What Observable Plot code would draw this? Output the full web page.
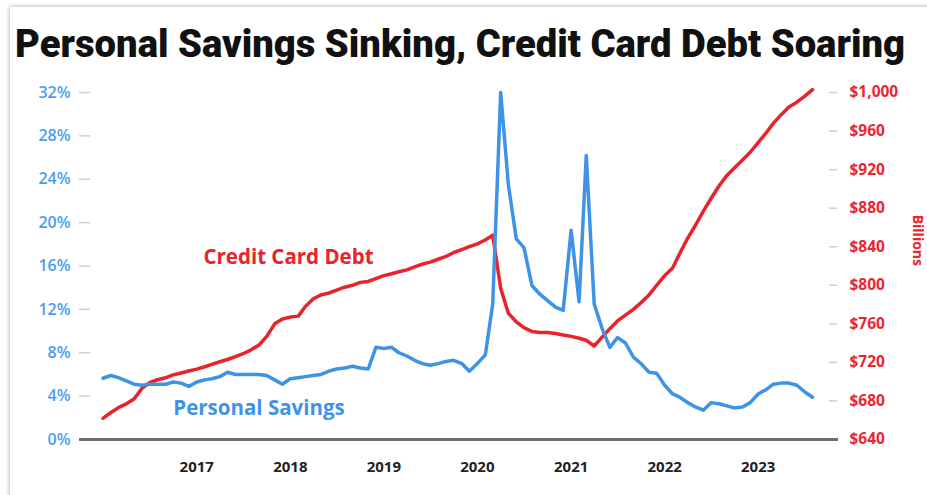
<!DOCTYPE html>
<html>
<head>
<meta charset="utf-8">
<script src="https://cdn.jsdelivr.net/npm/d3@7"></script>
<script src="https://cdn.jsdelivr.net/npm/@observablehq/plot@0.6"></script>
<style>
  html, body { margin: 0; padding: 0; background: #ffffff; width: 927px; height: 495px; overflow: hidden; }
  #card { position: absolute; left: 10px; top: 7px; width: 1000px; height: 600px; background: #fff;
          box-shadow: 0 0 5px rgba(0,0,0,0.35); }
  #wrap { position: absolute; left: 0; top: 0; width: 927px; }
  #title { display: block; }
  #chart svg { display: block; }
</style>
</head>
<body>
<div id="card"></div>
<div id="wrap">
  <svg id="title" width="927" height="70">
    <text x="15" y="57" textLength="890" lengthAdjust="spacingAndGlyphs"
      style="font-family: Roboto, 'Liberation Sans', sans-serif; font-weight: 900; font-size: 39px; fill: #111;">Personal Savings Sinking, Credit Card Debt Soaring</text>
  </svg>
  <div id="chart"></div>
</div>
<script>
// Monthly, Jan 2016 .. Aug 2023
const startYear = 2016, startMonth = 0;
// Personal saving rate (%)
const savings = [
  5.65, 5.9, 5.7, 5.4, 5.1, 5.0, 5.1, 5.1, 5.1, 5.3, 5.2, 4.9,
  5.3, 5.5, 5.6, 5.8, 6.2, 6.0, 6.0, 6.0, 6.0, 5.9, 5.5, 5.1,
  5.6, 5.7, 5.8, 5.9, 6.0, 6.3, 6.5, 6.6, 6.75, 6.6, 6.5, 8.5,
  8.4, 8.5, 8.0, 7.7, 7.3, 7.0, 6.85, 7.0, 7.2, 7.3, 7.0, 6.3,
  7.0, 7.8, 12.5, 32.0, 23.5, 18.5, 17.7, 14.2, 13.4, 12.8, 12.2, 11.9,
  19.3, 12.7, 26.2, 12.5, 10.3, 8.5, 9.4, 8.9, 7.6, 7.0, 6.2, 6.1,
  5.0, 4.2, 3.9, 3.4, 3.0, 2.7, 3.4, 3.3, 3.1, 2.9, 3.0, 3.4,
  4.2, 4.6, 5.1, 5.2, 5.2, 5.0, 4.4, 3.9
];
// Credit card debt ($ billions)
const debt = [
  662, 668, 673, 677, 682, 693, 699, 702, 704, 707, 709, 711,
  713, 715.5, 718, 720.7, 723, 726, 729, 733, 738, 747, 760, 765,
  767, 768, 778, 786, 790, 792, 795, 798, 800, 803, 804, 807,
  810, 812, 814, 816, 819, 822, 824, 827, 830, 834, 837, 840,
  843, 847, 852, 797, 771, 762, 756, 752, 751, 751, 750, 748.5,
  747, 745, 743, 737, 746, 755, 763, 769, 775, 782, 790, 800,
  810, 818, 833, 849, 862, 877, 890, 903, 914, 922, 930, 938,
  948, 958, 968, 977, 985, 990, 996, 1003
];
const pctTicks = [0, 4, 8, 12, 16, 20, 24, 28, 32];
const debtTicks = [640, 680, 720, 760, 800, 840, 880, 920, 960, 1000];
const yearTicks = [2017, 2018, 2019, 2020, 2021, 2022, 2023];
const debtMin = 640, debtMax = 1000, pctMax = 32;
const labels = [
  {text: "Credit Card Debt", year: 2017, month: 11, day: 25, value: 16.8, series: "debt"},
  {text: "Personal Savings", year: 2017, month: 8, day: 1, value: 2.9, series: "savings"}
];

const blue = "#3f93e6", red = "#e8232c";
const toPct = d => (d - debtMin) / (debtMax - debtMin) * pctMax;
const toDebt = p => debtMin + p * (debtMax - debtMin) / pctMax;

const dates = savings.map((_, i) => new Date(Date.UTC(startYear, startMonth + i, 1)));
const rows = dates.map((date, i) => ({date, savings: savings[i], debt: debt[i], debtPct: toPct(debt[i])}));
const labelRows = labels.map(l => ({...l, date: new Date(Date.UTC(l.year, l.month, l.day))}));

const font = "'Open Sans', Roboto, sans-serif";

const chart = Plot.plot({
  width: 927,
  height: 425,
  marginTop: 22,
  marginBottom: 56,
  marginLeft: 79,
  marginRight: 89,
  style: {fontFamily: font, background: "transparent"},
  x: {type: "utc", domain: [dates[0], dates[dates.length - 1]], insetLeft: 23.5, insetRight: 26},
  y: {domain: [0, pctMax]},
  marks: [
    // left tick marks (inward)
    Plot.axisY({anchor: "left", ticks: pctTicks, tickSize: 11, dx: 11, stroke: "#cfcfcf", strokeWidth: 1.5, tickFormat: () => "", label: null}),
    // left labels
    Plot.axisY({anchor: "left", ticks: pctTicks, tickSize: 0, tickPadding: 9, tickFormat: d => d + "%", label: null,
      fill: "#4a9df0", fontSize: 16, fontWeight: 600}),
    // right tick marks (inward)
    Plot.axisY({anchor: "right", ticks: debtTicks.map(toPct), tickSize: 8, dx: -10, stroke: "#cfcfcf", strokeWidth: 1.5, tickFormat: () => "", label: null}),
    // right labels
    Plot.axisY({anchor: "right", ticks: debtTicks.map(toPct), tickSize: 0, tickPadding: 11, label: null,
      tickFormat: p => d3.format("$,")(Math.round(toDebt(p))), fill: "#ec2631", fontSize: 15.5, fontWeight: 700}),
    Plot.text(["Billions"], {frameAnchor: "right", dx: 79, rotate: 90, fill: "#ec2631", fontSize: 14, fontWeight: 700}),
    // x axis labels
    Plot.axisX({ticks: yearTicks.map(y => new Date(Date.UTC(y, 0, 1))), tickSize: 0, tickPadding: 22,
      tickFormat: d => String(d.getUTCFullYear()), label: null, fill: "#222", fontSize: 15, fontWeight: 700}),
    // baseline
    Plot.ruleY([0], {stroke: "#707070", strokeWidth: 3}),
    // lines
    Plot.lineY(rows, {x: "date", y: "debtPct", stroke: red, strokeWidth: 3.5, strokeLinejoin: "round"}),
    Plot.lineY(rows, {x: "date", y: "savings", stroke: blue, strokeWidth: 3.5, strokeLinejoin: "round"}),
    // series labels
    Plot.text(labelRows, {x: "date", y: "value", text: "text",
      fill: d => d.series === "debt" ? red : blue, fontSize: 20.5, fontWeight: 700})
  ]
});
document.getElementById("chart").appendChild(chart);
</script>
</body>
</html>
